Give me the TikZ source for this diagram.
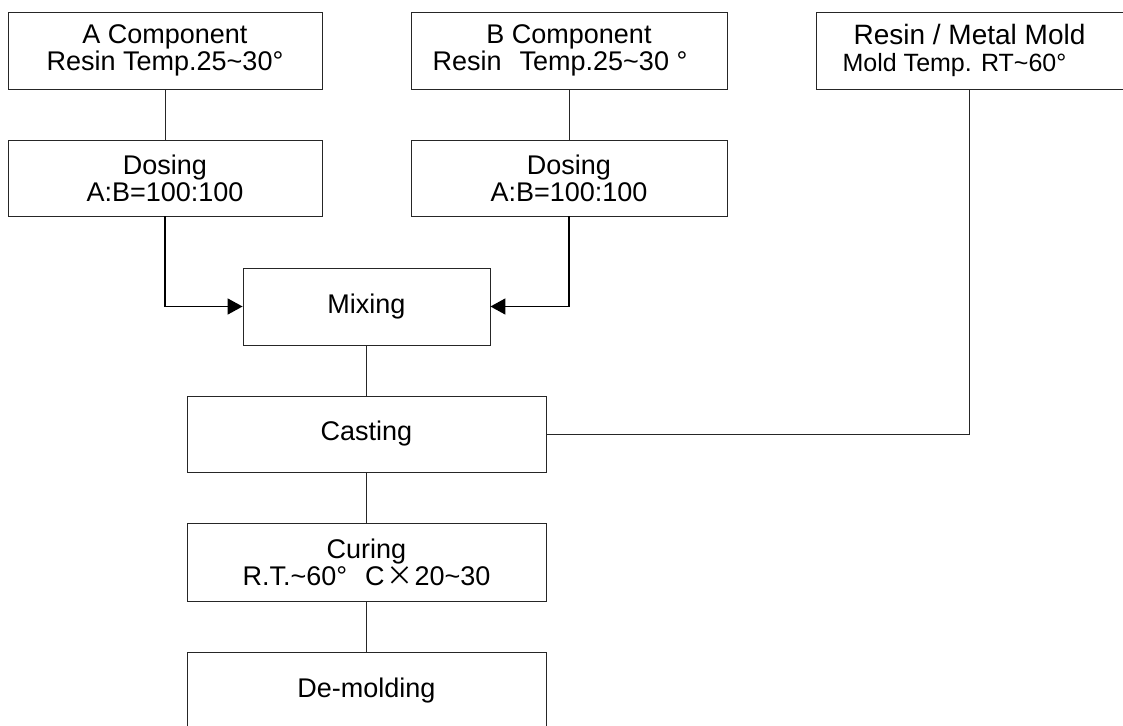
\documentclass[tikz,border=0pt]{standalone}
\usepackage{fontspec}
\setmainfont{Liberation Sans}
\newfontfamily\cjk{Noto Sans CJK SC}
\usetikzlibrary{arrows.meta}
\begin{document}
\begin{tikzpicture}[x=1pt,y=-1pt,
  box/.style={draw=black!85, line width=0.9pt, inner sep=0pt, align=center,
    font=\fontsize{27}{27}\selectfont},
  link/.style={draw=black!85, line width=0.9pt},
  arr/.style={draw=black, line width=1.7pt, -{Triangle[length=15pt,width=16pt]}}]
\useasboundingbox (0,0) rectangle (1123,725);
\node[box, minimum width=314pt, minimum height=77pt] (ac) at (165,50.5)
  {A Component\\Resin Temp.25\textasciitilde30°};
\node[box, minimum width=316pt, minimum height=77pt] (bc) at (569,50.5)
  {B Component\\Resin\hspace{18pt}Temp.25\textasciitilde30 °\hspace*{18pt}};
\node[box, minimum width=307pt, minimum height=77pt] (mold) at (969.5,50.5)
  {{\fontsize{28}{27}\selectfont Resin / Metal Mold}\\{\fontsize{25}{27}\selectfont Mold Temp. RT\textasciitilde60°}\hspace*{30pt}};
\node[box, minimum width=314pt, minimum height=76pt] (da) at (165,178)
  {Dosing\\A:B=100:100};
\node[box, minimum width=316pt, minimum height=76pt] (db) at (569,178)
  {Dosing\\A:B=100:100};
\node[box, minimum width=247pt, minimum height=77pt] (mix) at (366.5,306.5)
  {Mixing};
\node[box, minimum width=359pt, minimum height=76pt] (cast) at (366.5,434)
  {Casting};
\node[box, minimum width=359pt, minimum height=78pt] (cure) at (366.5,562)
  {Curing\\R.T.\textasciitilde60°\hspace{18pt}C\hspace{2pt}{\cjk ×}\hspace{1pt}20\textasciitilde30};
\node[box, minimum width=359pt, minimum height=78pt] (demold) at (366.5,691)
  {De-molding};
\draw[link] (ac.south) -- (da.north);
\draw[link] (bc.south) -- (db.north);
\draw[arr] (da.south) |- (mix.west);
\draw[arr] (db.south) |- (mix.east);
\draw[link] (mix.south) -- (cast.north);
\draw[link] (mold.south) |- (cast.east);
\draw[link] (cast.south) -- (cure.north);
\draw[link] (cure.south) -- (demold.north);
\end{tikzpicture}
\end{document}
